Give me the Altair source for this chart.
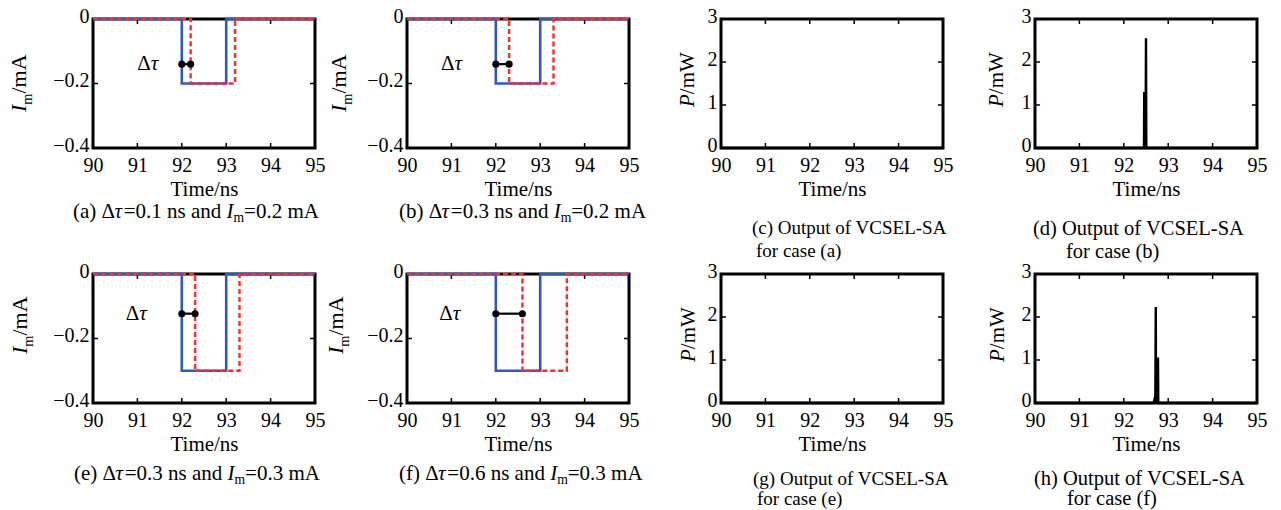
import altair as alt
import pandas as pd

FONT = "Liberation Serif"
BLUE = "#2f58c0"
RED = "#ff2a2a"
W, H = 222, 129

# ---------------- data ----------------
TIME_TICKS = [90, 91, 92, 93, 94, 95]
I_TICKS = [0, -0.2, -0.4]
P_TICKS = [0, 1, 2, 3]

# current-pulse panels (a), (b), (e), (f)
PULSE_IDS = ["a", "b", "e", "f"]
BLUE_ON = [92.0, 92.0, 92.0, 92.0]
BLUE_OFF = [93.0, 93.0, 93.0, 93.0]
RED_ON = [92.2, 92.3, 92.3, 92.6]
RED_OFF = [93.2, 93.3, 93.3, 93.6]
DEPTH = [-0.2, -0.2, -0.3, -0.3]
MARK_Y = [-0.14, -0.14, -0.123, -0.123]
LABEL_X = [91.3, 91.07, 91.04, 91.03]
DTAU_TEXT = ["0.1", "0.3", "0.3", "0.6"]
IM_TEXT = ["0.2", "0.2", "0.3", "0.3"]

# output panels (c), (d), (g), (h)
OUT_IDS = ["c", "d", "g", "h"]
OUT_CASE = ["a", "b", "e", "f"]
C_T = [90, 95]
C_P = [0, 0]
D_T = [90, 92.455, 92.46, 92.465, 92.49, 92.50, 92.507, 95]
D_P = [0, 0, 1.3, 0.05, 0.05, 2.55, 0, 0]
G_T = [90, 95]
G_P = [0, 0]
H_T = [90, 92.67, 92.69, 92.71, 92.72, 92.727, 92.765, 92.77, 92.777, 95]
H_P = [0, 0, 0.08, 0.02, 2.23, 0.03, 0.03, 1.06, 0, 0]
OUT_T = [C_T, D_T, G_T, H_T]
OUT_P = [C_P, D_P, G_P, H_P]

# text placement (pixels relative to each panel's plot area)
PULSE_CAP_X = [-20, -8, -19, -8]
PULSE_CAP_Y = [193, 193, 200, 200]
PULSE_CAP_FS = [21, 21, 21, 21]
PULSE_YT_X = [-67, -61, -66, -64]
PULSE_YT_Y = [93, 93, 80, 80]
OUT_CAP_X1 = [31, -2, 32, -1]
OUT_CAP_X2 = [35, 31, 36, 32]
OUT_CAP_Y1 = [209, 210, 205, 205]
OUT_CAP_Y2 = [232, 233, 225, 225]
OUT_CAP_FS = [19, 20.5, 19, 20.5]
OUT_YT_X = [-27, -32, -26, -31]
OUT_YT_Y = [88, 88, 88, 88]

# ---------------- text helpers ----------------
NORMAL_W = {' ': 250, '(': 333, ')': 333, '.': 250, '=': 564, '-': 333, '/': 278,
            'a': 444, 'b': 500, 'c': 444, 'd': 500, 'e': 444, 'f': 333, 'g': 500,
            'h': 500, 'i': 278, 'm': 778, 'n': 500, 'o': 500, 'p': 500, 'r': 333,
            's': 389, 't': 278, 'u': 500, 'A': 722, 'C': 667, 'E': 611, 'L': 611,
            'O': 722, 'S': 556, 'T': 611, 'V': 722, 'W': 944, 'Δ': 612}
ITALIC_W = {'I': 333, 'P': 611, 'τ': 440, 'm': 722}


def text_width(text, style, fs):
    table = ITALIC_W if style == 'i' else NORMAL_W
    size = fs * 0.65 if style == 's' else fs
    return sum(table.get(ch, 500) for ch in text) / 1000.0 * size


def const_text(text, px, py, size, italic=False, angle=0, align="left", baseline="middle"):
    return alt.Chart(alt.Data(values=[{"k": 0}])).mark_text(
        text=text, font=FONT, fontSize=size,
        fontStyle="italic" if italic else "normal",
        align=align, baseline=baseline, angle=angle, color="black"
    ).encode(x=alt.value(px), y=alt.value(py))


def caption_layers(pieces, px, py, fs):
    layers = []
    x = px
    for text, style in pieces:
        size = fs * 0.65 if style == 's' else fs
        yy = py + fs * 0.3 if style == 's' else py
        layers.append(const_text(text, x, yy, size, italic=(style == 'i')))
        x += text_width(text, style, fs)
    return layers


def ytitle_layers(pieces, xb, ys, fs):
    layers = []
    y = ys
    for text, style in pieces:
        size = fs * 0.65 if style == 's' else fs
        xx = xb + fs * 0.25 if style == 's' else xb
        layers.append(const_text(text, xx, y, size, italic=(style == 'i'),
                                 angle=270, baseline="alphabetic"))
        y -= text_width(text, style, fs)
    return layers


def xenc():
    return alt.X("t:Q", scale=alt.Scale(domain=[90, 95], nice=False, zero=False),
                 axis=alt.Axis(values=TIME_TICKS, title="Time/ns", format="d",
                               labelPadding=7, titlePadding=3, labelFlush=False))


def yenc(domain, ticks, fmt):
    return alt.Y("v:Q", scale=alt.Scale(domain=domain, nice=False, zero=False),
                 axis=alt.Axis(values=ticks, title=None, format=fmt, labelPadding=4,
                               labelFlush=False, labelOffset=-3))


def tick_layers(yd, yticks, fmt):
    inner_x = pd.DataFrame({"t": TIME_TICKS[1:-1]})
    inner_y = pd.DataFrame({"v": yticks[1:-1]})
    rule = dict(color="black", strokeWidth=1.5)
    return [
        alt.Chart(inner_x).mark_rule(**rule).encode(x=xenc(), y=alt.value(H), y2=alt.value(H - 5)),
        alt.Chart(inner_x).mark_rule(**rule).encode(x=xenc(), y=alt.value(0), y2=alt.value(5)),
        alt.Chart(inner_y).mark_rule(**rule).encode(y=yenc(yd, yticks, fmt), x=alt.value(0), x2=alt.value(5)),
        alt.Chart(inner_y).mark_rule(**rule).encode(y=yenc(yd, yticks, fmt), x=alt.value(W), x2=alt.value(W - 5)),
    ]


def pulse_panel(k):
    yd = [-0.4, 0]
    fmt = ".1~f"
    blue = pd.DataFrame({
        "t": [90, BLUE_ON[k], BLUE_ON[k], BLUE_OFF[k], BLUE_OFF[k], 95],
        "v": [0, 0, DEPTH[k], DEPTH[k], 0, 0]})
    blue["i"] = range(len(blue))
    red = pd.DataFrame({
        "t": [90, RED_ON[k], RED_ON[k], RED_OFF[k], RED_OFF[k], 95],
        "v": [0, 0, DEPTH[k], DEPTH[k], 0, 0]})
    red["i"] = range(len(red))
    marker = pd.DataFrame({"t": [BLUE_ON[k], RED_ON[k]], "v": [MARK_Y[k], MARK_Y[k]]})
    lab = pd.DataFrame({"t": [LABEL_X[k]], "v": [MARK_Y[k]]})

    layers = tick_layers(yd, I_TICKS, fmt)
    layers += [
        alt.Chart(blue).mark_line(color=BLUE, strokeWidth=2.6).encode(
            x=xenc(), y=yenc(yd, I_TICKS, fmt), order="i:Q"),
        alt.Chart(red).mark_line(color=RED, strokeWidth=2.4, strokeDash=[5, 3]).encode(
            x=xenc(), y=yenc(yd, I_TICKS, fmt), order="i:Q"),
        alt.Chart(marker).mark_line(color="black", strokeWidth=2.2).encode(
            x=xenc(), y=yenc(yd, I_TICKS, fmt)),
        alt.Chart(marker).mark_circle(color="black", size=50, opacity=1).encode(
            x=xenc(), y=yenc(yd, I_TICKS, fmt)),
        alt.Chart(lab).mark_text(text="Δ", font=FONT, fontSize=21, align="right",
                                 baseline="middle", color="black").encode(
            x=xenc(), y=yenc(yd, I_TICKS, fmt)),
        alt.Chart(lab).mark_text(text="τ", font=FONT, fontSize=21, fontStyle="italic",
                                 align="left", baseline="middle", color="black").encode(
            x=xenc(), y=yenc(yd, I_TICKS, fmt)),
    ]
    layers += ytitle_layers([("I", "i"), ("m", "s"), ("/mA", "n")],
                            PULSE_YT_X[k], PULSE_YT_Y[k], 22)
    pieces = [(f"({PULSE_IDS[k]}) Δ", "n"), ("τ", "i"), (f"={DTAU_TEXT[k]} ns and ", "n"),
              ("I", "i"), ("m", "s"), (f"={IM_TEXT[k]} mA", "n")]
    layers += caption_layers(pieces, PULSE_CAP_X[k], PULSE_CAP_Y[k], PULSE_CAP_FS[k])
    return alt.layer(*layers).properties(width=W, height=H)


def output_panel(k):
    yd = [0, 3]
    fmt = "d"
    df = pd.DataFrame({"t": OUT_T[k], "v": OUT_P[k]})
    df["i"] = range(len(df))
    layers = tick_layers(yd, P_TICKS, fmt)
    layers.append(alt.Chart(df).mark_line(color="black", strokeWidth=2.4).encode(
        x=xenc(), y=yenc(yd, P_TICKS, fmt), order="i:Q"))
    layers += ytitle_layers([("P", "i"), ("/mW", "n")], OUT_YT_X[k], OUT_YT_Y[k], 21)
    fs = OUT_CAP_FS[k]
    layers.append(const_text(f"({OUT_IDS[k]}) Output of VCSEL-SA", OUT_CAP_X1[k], OUT_CAP_Y1[k], fs))
    layers.append(const_text(f"for case ({OUT_CASE[k]})", OUT_CAP_X2[k], OUT_CAP_Y2[k], fs))
    return alt.layer(*layers).properties(width=W, height=H)


panels = [pulse_panel(0), pulse_panel(1), output_panel(0), output_panel(1),
          pulse_panel(2), pulse_panel(3), output_panel(2), output_panel(3)]

chart = alt.concat(
    *panels, columns=4, spacing={"row": 126, "column": 92}, bounds="flush"
).properties(
    padding={"left": 6, "top": 4, "right": 5, "bottom": 0}
).configure_view(
    stroke="black", strokeWidth=3
).configure_axis(
    domain=False, ticks=False, tickSize=0, grid=False,
    labelFont=FONT, labelFontSize=20, labelColor="black",
    titleFont=FONT, titleFontSize=21, titleColor="black", titleFontWeight="normal"
)

chart.save("out.html", embed_options={"renderer": "svg", "actions": False})
